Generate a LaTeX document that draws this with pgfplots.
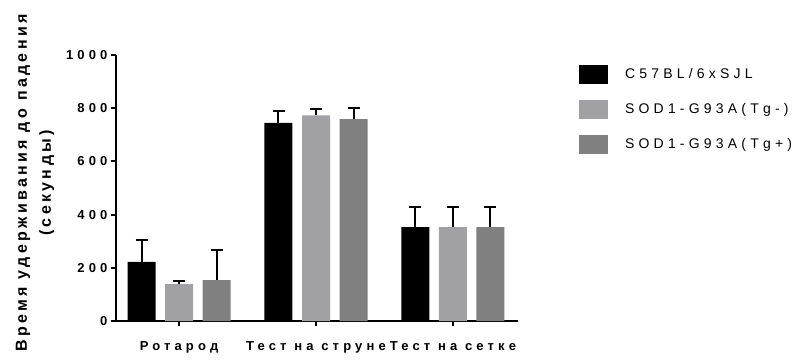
\documentclass[border=0pt]{standalone}
\usepackage{fontspec}
\setmainfont[LetterSpace=30]{Liberation Sans}
\newfontfamily\tickbold[LetterSpace=32]{Liberation Sans Bold}
\newfontfamily\labelbold[LetterSpace=21]{Liberation Sans Bold}
\usepackage{pgfplots}
\pgfplotsset{compat=1.18}

\definecolor{barlight}{RGB}{161,161,165}
\definecolor{bardark}{RGB}{128,128,128}

\newcommand{\tickfont}{\tickbold\fontsize{13bp}{15bp}\selectfont}

% mean and upper error (SD) for each group
\pgfplotstableread{
x  y    e
0  222  83
1  745  44
2  353  74
}\tblA
\pgfplotstableread{
x  y    e
0  139  11
1  773  23
2  353  74
}\tblB
\pgfplotstableread{
x  y    e
0  154  113
1  759  43
2  353  74
}\tblC

\pgfplotsset{
  errup/.style={error bars/.cd, y dir=plus, y explicit, error mark=|,
    error bar style={line width=2bp, black},
    error mark options={line width=2bp, black, mark size=6bp}},
}

\begin{document}
\begin{tikzpicture}
\useasboundingbox (-116bp,-43bp) rectangle (680bp,321bp);
\begin{axis}[
  at={(0,0)}, anchor=south west,
  scale only axis, width=402bp, height=266bp,
  xmin=-0.4599, xmax=2.4745, ymin=0, ymax=1000,
  axis lines=left,
  axis line style={-, line width=2bp, black},
  every outer x axis line/.append style={-},
  every outer y axis line/.append style={-},
  tick style={line width=2bp, black},
  major tick length=5bp, tick align=outside,
  ytick={0,200,...,1000},
  xtick={0,1,2},
  xticklabels={Ротарод,Тест на струне,Тест на сетке},
  /pgf/number format/assume math mode=true,
  /pgf/number format/1000 sep={},
  yticklabel={\tickfont\pgfmathprintnumber{\tick}},
  xticklabel style={font=\tickfont, yshift=-12bp},
  ylabel={Время удерживания до падения\\(секунды)},
  ylabel style={align=center, font=\labelbold\fontsize{16bp}{24bp}\selectfont,
    at={(axis description cs:-0.2015,0.519)}, anchor=center},
  ybar, bar width=28bp,
  legend image code/.code={\fill[#1] (0bp,-9.5bp) rectangle (29bp,9.5bp);},
  legend style={at={(1.144,0.97)}, anchor=north west, draw=none, fill=none,
    font=\fontsize{14bp}{16bp}\selectfont, row sep=16bp,
    /tikz/every odd column/.append style={column sep=17bp},
    nodes={inner sep=0pt, anchor=west}},
  legend cell align=left,
]
\addplot[fill=black, draw=none, bar shift=-37.5bp, errup]
  table[x=x, y=y, y error=e] {\tblA};
\addplot[fill=barlight, draw=none, bar shift=0bp, errup]
  table[x=x, y=y, y error=e] {\tblB};
\addplot[fill=bardark, draw=none, bar shift=37.5bp, errup]
  table[x=x, y=y, y error=e] {\tblC};
\legend{C57BL/6xSJL, SOD1-G93A(Tg-), SOD1-G93A(Tg+)}
\end{axis}
\end{tikzpicture}
\end{document}
